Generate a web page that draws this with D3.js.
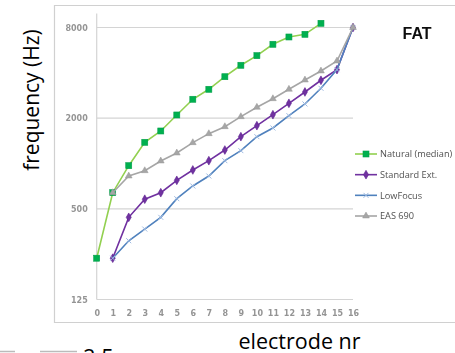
<!DOCTYPE html>
<html>
<head>
<meta charset="utf-8">
<script src="https://cdn.jsdelivr.net/npm/d3@7"></script>
<style>
  html, body { margin: 0; padding: 0; background: #fff; }
  svg { display: block; }
</style>
</head>
<body>
<svg id="chart" width="455" height="353"></svg>
<script>
// Electrode numbers along the x axis
const electrodes = d3.range(0, 17);
// Frequency tick labels (Hz), log2 axis
const freqTicks = [125, 500, 2000, 8000];

// Centre frequency per electrode (Hz) for each map
const naturalMedian = [235, 640, 967, 1383, 1644, 2100, 2670, 3110, 3770, 4490, 5200, 6190, 6920, 7210, 8530];
const standardExt   = [null, 235, 439, 579, 640, 773, 906, 1044, 1229, 1507, 1783, 2109, 2510, 2985, 3570, 4200, 8000];
const lowFocus      = [null, 235, 307, 367, 439, 584, 709, 826, 1044, 1217, 1507, 1721, 2078, 2485, 3158, 4200, 8000];
const eas690        = [null, 640, 826, 896, 1039, 1174, 1375, 1578, 1756, 2046, 2362, 2694, 3110, 3585, 4115, 4794, 8000];

const seriesNames = ["Natural (median)", "Standard Ext.", "LowFocus", "EAS 690"];

const series = [
  { name: seriesNames[0], values: naturalMedian, line: "#92D050", fill: "#00B050", stroke: "#00A04A", shape: "square" },
  { name: seriesNames[1], values: standardExt,   line: "#7030A0", fill: "#7030A0", stroke: "#5E2590", shape: "diamond" },
  { name: seriesNames[2], values: lowFocus,      line: "#4F81BD", fill: "none",    stroke: "#9DB9E0", shape: "cross" },
  { name: seriesNames[3], values: eas690,        line: "#A6A6A6", fill: "#A6A6A6", stroke: "#999999", shape: "triangle" }
];

const svg = d3.select("#chart");
const defs = svg.append("defs");
defs.append("filter").attr("id", "soft")
  .append("feGaussianBlur").attr("stdDeviation", 0.45);

const x = d3.scaleLinear().domain([0, 16]).range([96.7, 353]);
const y = d3.scaleLog().base(2).domain([125, 8000]).range([299.5, 27.5]);

// Outer chart frame
svg.append("path")
  .attr("d", "M455,5.5 H54.5 V322.5 H455")
  .attr("fill", "none").attr("stroke", "#d0d0d0").attr("stroke-width", 1.2);

const plot = svg.append("g").attr("filter", "url(#soft)");

// Horizontal gridlines
plot.append("g").selectAll("line")
  .data(freqTicks)
  .join("line")
  .attr("x1", x(0)).attr("x2", x(16))
  .attr("y1", d => y(d)).attr("y2", d => y(d))
  .attr("stroke", "#d4d4d4").attr("stroke-width", 1.2);

// Vertical axis line (plot area runs a little above the top tick)
plot.append("line")
  .attr("x1", x(0)).attr("x2", x(0))
  .attr("y1", y(8000) - 14).attr("y2", y(125))
  .attr("stroke", "#d4d4d4").attr("stroke-width", 1.2);

// Y axis tick labels
const yAxis = d3.axisLeft(y).tickValues(freqTicks).tickFormat(d3.format("d")).tickSize(0).tickPadding(9);
const yg = plot.append("g").attr("transform", `translate(${x(0)},0)`).call(yAxis);
yg.select(".domain").remove();
yg.selectAll("text").attr("fill", "#7a7a7a").attr("font-size", 8)
  .attr("font-family", "'DejaVu Sans', sans-serif").attr("font-weight", "bold").attr("opacity", 0.8);

// X axis tick labels
const xAxis = d3.axisBottom(x).tickValues(electrodes).tickFormat(d3.format("d")).tickSize(0).tickPadding(11);
const xg = plot.append("g").attr("transform", `translate(0,${y(125)})`).call(xAxis);
xg.select(".domain").remove();
xg.selectAll("text").attr("fill", "#7a7a7a").attr("font-size", 8)
  .attr("font-family", "'DejaVu Sans', sans-serif").attr("font-weight", "bold").attr("opacity", 0.8);

// Marker shapes
function marker(sel, s) {
  if (s.shape === "square") {
    sel.append("rect").attr("x", -3).attr("y", -3).attr("width", 6).attr("height", 6)
      .attr("fill", s.fill).attr("stroke", s.stroke).attr("stroke-width", 0.6);
  } else if (s.shape === "diamond") {
    sel.append("path").attr("d", d3.symbol().type(d3.symbolDiamond).size(22))
      .attr("fill", s.fill).attr("stroke", s.stroke).attr("stroke-width", 0.6);
  } else if (s.shape === "triangle") {
    sel.append("path").attr("d", d3.symbol().type(d3.symbolTriangle).size(20))
      .attr("fill", s.fill).attr("stroke", s.stroke).attr("stroke-width", 0.5);
  } else {
    sel.append("path").attr("d", "M-2.5,-2.5L2.5,2.5M-2.5,2.5L2.5,-2.5")
      .attr("fill", "none").attr("stroke", s.stroke).attr("stroke-width", 1);
  }
}

const line = d3.line()
  .defined(d => d.v != null)
  .x(d => x(d.i)).y(d => y(d.v));

series.forEach(s => {
  const pts = s.values.map((v, i) => ({ i, v }));
  const g = plot.append("g");
  g.append("path").datum(pts)
    .attr("d", line).attr("fill", "none")
    .attr("stroke", s.line).attr("stroke-width", 1.6);
  g.selectAll("g.pt").data(pts.filter(d => d.v != null))
    .join("g").attr("class", "pt")
    .attr("transform", d => `translate(${x(d.i)},${y(d.v)})`)
    .each(function () { marker(d3.select(this), s); });
});

// Legend
const legend = plot.append("g");
const legendY = d3.scalePoint().domain(seriesNames).range([154, 216]);
series.forEach(s => {
  const g = legend.append("g").attr("transform", `translate(355,${legendY(s.name)})`);
  g.append("line").attr("x1", 0).attr("x2", 22).attr("stroke", s.line).attr("stroke-width", 1.6);
  const m = g.append("g").attr("transform", "translate(11,0)");
  marker(m, s);
  g.append("text").attr("x", 25).attr("dy", "0.35em")
    .attr("font-family", "'Open Sans', sans-serif").attr("font-size", 9.2)
    .attr("fill", "#505050").text(s.name);
});

// Panel title
plot.append("text").attr("x", 417).attr("y", 38.5).attr("text-anchor", "middle")
  .attr("font-family", "'Liberation Sans', Arial, sans-serif").attr("font-weight", "bold")
  .attr("font-size", 16).attr("fill", "#111").text("FAT");

// Axis titles
svg.append("text")
  .attr("transform", "translate(38.5,100) rotate(-90)")
  .attr("text-anchor", "middle")
  .attr("font-family", "'Open Sans', sans-serif").attr("font-size", 21)
  .attr("fill", "#000").text("frequency (Hz)");

svg.append("text")
  .attr("x", 299.5).attr("y", 348.5).attr("text-anchor", "middle")
  .attr("font-family", "'Open Sans', sans-serif").attr("font-size", 21.5)
  .attr("fill", "#000").text("electrode nr");

// Top of the next panel, cut off by the page edge
svg.append("g").selectAll("line")
  .data([[0, 15], [40, 77]])
  .join("line")
  .attr("x1", d => d[0]).attr("x2", d => d[1])
  .attr("y1", 351.5).attr("y2", 351.5)
  .attr("stroke", "#bbb").attr("stroke-width", 1.5);
svg.append("text")
  .attr("x", 83).attr("y", 365)
  .attr("font-family", "'Open Sans', sans-serif").attr("font-size", 22)
  .attr("fill", "#000").text("2.5");
</script>
</body>
</html>
